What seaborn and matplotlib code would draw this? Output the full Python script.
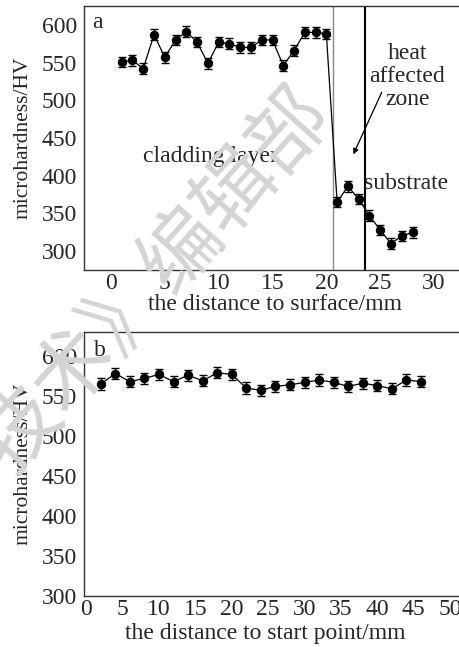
import matplotlib
matplotlib.use("Agg")
import matplotlib.pyplot as plt
import seaborn as sns
import pandas as pd

# ---- data ----
dist_a = [1, 2, 3, 4, 5, 6, 7, 8, 9, 10, 11, 12, 13, 14, 15, 16, 17, 18, 19, 20,
          21, 22, 23, 24, 25, 26, 27, 28]
hv_a = [551, 553, 542, 587, 557, 580, 591, 577, 549, 577, 575, 570, 570, 580, 580,
        546, 566, 590, 590, 588, 365, 386, 369, 347, 328, 310, 320, 325]
err_a = [7] * 28

dist_b = [2, 4, 6, 8, 10, 12, 14, 16, 18, 20, 22, 24, 26, 28, 30, 32, 34, 36, 38,
          40, 42, 44, 46]
hv_b = [565, 578, 568, 572, 577, 568, 576, 569, 579, 577, 560, 557, 562, 564, 567,
        570, 567, 562, 566, 563, 559, 570, 568]
err_b = [7] * 23

xticks_a = [0, 5, 10, 15, 20, 25, 30]
xticks_b = [0, 5, 10, 15, 20, 25, 30, 35, 40, 45, 50]
yticks_a = [300, 350, 400, 450, 500, 550, 600]
yticks_b = [300, 350, 400, 450, 500, 550, 600]

sns.set_theme(style="white")
plt.rcParams['font.family'] = ['Liberation Serif', 'DejaVu Serif']

W, H = 459, 647
fig = plt.figure(figsize=(W / 100, H / 100), dpi=100)

def px_axes(l, t, r, b):
    return fig.add_axes([l / W, 1 - b / H, (r - l) / W, (b - t) / H])

axA = px_axes(84, 6, 461, 270)
axB = px_axes(84, 332, 461, 596)

FS = 17
FSY = 15.5

def style(ax):
    for s in ax.spines.values():
        s.set_color('#333333')
        s.set_linewidth(1.0)
    ax.tick_params(axis='x', direction='in', length=5, width=1, color='#333333',
                   labelsize=FS, pad=2)
    ax.tick_params(axis='y', direction='out', length=4, width=1, color='#333333',
                   labelsize=FS, pad=1)
    ax.grid(False)

dfa = pd.DataFrame({'d': dist_a, 'hv': hv_a})
dfb = pd.DataFrame({'d': dist_b, 'hv': hv_b})

for ax, df, err in [(axA, dfa, err_a), (axB, dfb, err_b)]:
    ax.errorbar(df['d'], df['hv'], yerr=err, fmt='none', ecolor='black',
                elinewidth=1, capsize=3, capthick=1, zorder=2)
    sns.lineplot(data=df, x='d', y='hv', ax=ax, color='black', linewidth=0.9,
                 marker='o', markersize=6, markeredgecolor='black', zorder=3)

# panel a
axA.axvline(20.6, color='#888888', linewidth=1.0, zorder=1)
axA.axvline(23.6, color='black', linewidth=1.5, zorder=1)
axA.set_xlim(-2.5, 32.5)
axA.set_ylim(275, 625)
axA.set_xticks(xticks_a)
axA.set_yticks(yticks_a)
style(axA)
axA.set_xlabel('the distance to surface/mm', fontsize=FS)
axA.set_ylabel('microhardness/HV', fontsize=FSY)
axA.yaxis.set_label_coords(-(84 - 23) / 377, 0.5)
axA.xaxis.set_label_coords((275 - 84) / 377, -(305 - 270) / 264)
axA.xaxis.label.set_va('center')
axA.yaxis.label.set_va('center')
axA.text(-1.7, 603, 'a', fontsize=FS, va='center', ha='left')
axA.text(3.0, 425, 'cladding layer', fontsize=FS, va='center', ha='left')
axA.text(27.5, 531, 'heat\naffected\nzone', fontsize=FS, va='center', ha='center',
         linespacing=1.12)
axA.text(23.5, 390, 'substrate', fontsize=FS, va='center', ha='left')
axA.annotate('', xy=(22.4, 425), xytext=(25.25, 514),
             arrowprops=dict(arrowstyle='-|>', color='black', lw=0.9,
                             mutation_scale=8))

# panel b
axB.set_xlim(-0.3, 51.5)
axB.set_ylim(300, 630)
axB.set_xticks(xticks_b)
axB.set_yticks(yticks_b)
style(axB)
axB.set_xlabel('the distance to start point/mm', fontsize=FS)
axB.set_ylabel('microhardness/HV', fontsize=FSY)
axB.yaxis.set_label_coords(-(84 - 23) / 377, 0.5)
axB.xaxis.set_label_coords((265 - 84) / 377, -(633 - 596) / 264)
axB.xaxis.label.set_va('center')
axB.yaxis.label.set_va('center')
axB.text(1.0, 607, 'b', fontsize=FS, va='center', ha='left')

# watermark
fig.text(155 / W, 1 - 280 / H, '技术》编辑部', fontsize=58, color='#d4d4d4',
         rotation=48, ha='center', va='center', rotation_mode='anchor',
         family=['Noto Sans CJK SC', 'DejaVu Sans'], zorder=10)

fig.savefig('out.png', dpi=100)
